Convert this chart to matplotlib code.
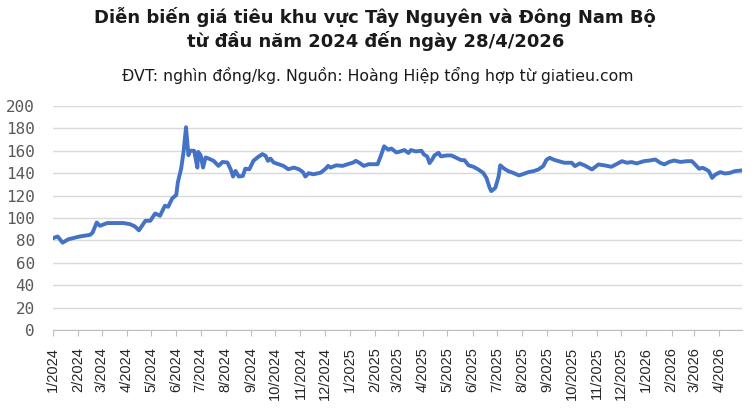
import numpy as np
import pandas as pd
import matplotlib
matplotlib.use("Agg")
import matplotlib.pyplot as plt
import matplotlib.dates as mdates

# giá tiêu (nghìn đồng/kg)
dates = [
    "2024-01-01", "2024-01-07", "2024-01-13", "2024-01-20", "2024-02-03", "2024-02-16",
    "2024-02-19", "2024-02-24", "2024-02-28", "2024-03-08", "2024-03-28", "2024-04-05",
    "2024-04-11", "2024-04-16", "2024-04-24", "2024-04-30", "2024-05-06", "2024-05-12",
    "2024-05-18", "2024-05-22", "2024-05-27", "2024-06-01", "2024-06-03", "2024-06-07",
    "2024-06-10", "2024-06-13", "2024-06-16", "2024-06-18", "2024-06-23", "2024-06-27",
    "2024-06-28", "2024-07-01", "2024-07-04", "2024-07-07", "2024-07-11", "2024-07-17",
    "2024-07-23", "2024-07-28", "2024-08-03",
    "2024-08-07", "2024-08-10", "2024-08-13", "2024-08-17", "2024-08-22", "2024-08-25",
    "2024-08-30", "2024-09-04", "2024-09-09", "2024-09-15", "2024-09-19", "2024-09-22",
    "2024-09-25", "2024-09-29", "2024-10-05", "2024-10-11", "2024-10-17", "2024-10-24",
    "2024-10-30", "2024-11-04", "2024-11-07", "2024-11-11", "2024-11-17", "2024-11-26",
    "2024-12-02", "2024-12-05", "2024-12-08", "2024-12-15", "2024-12-23", "2024-12-29",
    "2025-01-05", "2025-01-08", "2025-01-12", "2025-01-18", "2025-01-24", "2025-02-04",
    "2025-02-08", "2025-02-12", "2025-02-17", "2025-02-21", "2025-02-27", "2025-03-02",
    "2025-03-09", "2025-03-14", "2025-03-17", "2025-03-23", "2025-03-30", "2025-04-02",
    "2025-04-06", "2025-04-09", "2025-04-12", "2025-04-15", "2025-04-20", "2025-04-23",
    "2025-04-30", "2025-05-06", "2025-05-12", "2025-05-18", "2025-05-22", "2025-05-27",
    "2025-06-02", "2025-06-08", "2025-06-14", "2025-06-18", "2025-06-22", "2025-06-24",
    "2025-06-29", "2025-07-03", "2025-07-05", "2025-07-10", "2025-07-15", "2025-07-21",
    "2025-07-28", "2025-08-03", "2025-08-09", "2025-08-15", "2025-08-21", "2025-08-27",
    "2025-08-31", "2025-09-04", "2025-09-09", "2025-09-15", "2025-09-22", "2025-10-01",
    "2025-10-05", "2025-10-11", "2025-10-17", "2025-10-26", "2025-11-03", "2025-11-11",
    "2025-11-19", "2025-11-26", "2025-12-02", "2025-12-08", "2025-12-14", "2025-12-20",
    "2025-12-29", "2026-01-05", "2026-01-12", "2026-01-18", "2026-01-23", "2026-01-29",
    "2026-02-04", "2026-02-12", "2026-02-20", "2026-02-26", "2026-03-02", "2026-03-07",
    "2026-03-11", "2026-03-14", "2026-03-19", "2026-03-23", "2026-03-27", "2026-04-02",
    "2026-04-08", "2026-04-14", "2026-04-20", "2026-04-28",
]
prices = [
    82, 83.5, 78, 81, 83.5, 85,
    87, 96, 93, 95.5, 95.5, 94.5,
    92.5, 89, 97.5, 97.5, 104, 102,
    111, 110, 117.5, 120.5, 132, 144,
    159, 181, 156, 160, 160, 145,
    159, 156, 145, 154, 153, 151,
    146.5, 150, 149.5,
    143.5, 137, 142, 137, 137.5, 144,
    143.5, 151, 154, 157, 155.5, 151,
    153, 149.5, 148, 146.5, 143.5, 145,
    143.5, 141, 137, 140, 139, 140.5,
    144, 146.5, 145, 147, 146.5, 148,
    149.5, 151, 149.5, 146.5, 148, 148,
    155.5, 164, 161, 162, 158.5, 159,
    160.6, 158, 160.6, 159.4, 160, 156.7,
    155, 149, 152, 155.8, 158.2, 155,
    155.8, 155.8, 153.7, 151.6, 151.6, 147,
    145.7, 143.3, 140.3, 135.8, 126.9, 124,
    126.9, 137, 147, 144, 141.8, 140.3,
    138, 139.4, 141, 141.8, 143.3, 146.3,
    152, 153.7, 152, 150.7, 149.3, 149.3,
    146.3, 148.7, 146.9, 143.3, 147.8, 146.9,
    145.7, 148.4, 150.7, 149.3, 149.9, 148.7,
    150.7, 151.3, 152.2, 149.3, 147.8, 150,
    151.3, 150, 150.7, 150.7, 147.8, 143.9,
    144.8, 143.9, 141.8, 135.8, 138.8, 140.9,
    139.7, 140.3, 141.8, 142.4,
]
yticks = list(range(0, 201, 20))
title = "Diễn biến giá tiêu khu vực Tây Nguyên và Đông Nam Bộ\ntừ đầu năm 2024 đến ngày 28/4/2026"
subtitle = "ĐVT: nghìn đồng/kg. Nguồn: Hoàng Hiệp tổng hợp từ giatieu.com"

x = pd.to_datetime(dates)

fig = plt.figure(figsize=(7.55, 4.09), dpi=100)
ax = fig.add_axes([0.070, 0.193, 0.913, 0.548])

ax.plot(x, prices, color="#4472C4", linewidth=2.8, solid_joinstyle="round")

ax.set_ylim(0, 200)
ax.set_yticks(yticks)
ax.set_xlim(pd.Timestamp("2024-01-01"), pd.Timestamp("2026-04-29"))
months = pd.date_range("2024-01-01", "2026-04-01", freq="MS")
ax.set_xticks(months)
ax.set_xticklabels([f"{d.month}/{d.year}" for d in months], rotation=90,
                   family=["Liberation Sans Narrow", "Liberation Sans"], fontsize=10.5,
                   color="#262626")
for lbl in ax.get_yticklabels():
    lbl.set_family("DejaVu Sans Mono")
    lbl.set_fontsize(11.5)
    lbl.set_color("#595959")

ax.grid(axis="y", color="#d9d9d9", linewidth=1)
ax.set_axisbelow(True)
for s in ["top", "right", "left"]:
    ax.spines[s].set_visible(False)
ax.spines["bottom"].set_color("#bfbfbf")
ax.tick_params(axis="y", length=0, pad=13)
ax.tick_params(axis="x", length=4, color="#bfbfbf", pad=8)

fig.text(0.497, 0.982, title, ha="center", va="top", fontsize=13, fontweight="bold",
         family="DejaVu Sans", color="#1a1a1a", linespacing=1.2)
fig.text(0.5, 0.815, subtitle, ha="center", va="center", fontsize=11.3,
         family="DejaVu Sans", color="#1a1a1a")

fig.savefig("out.png", dpi=100)
